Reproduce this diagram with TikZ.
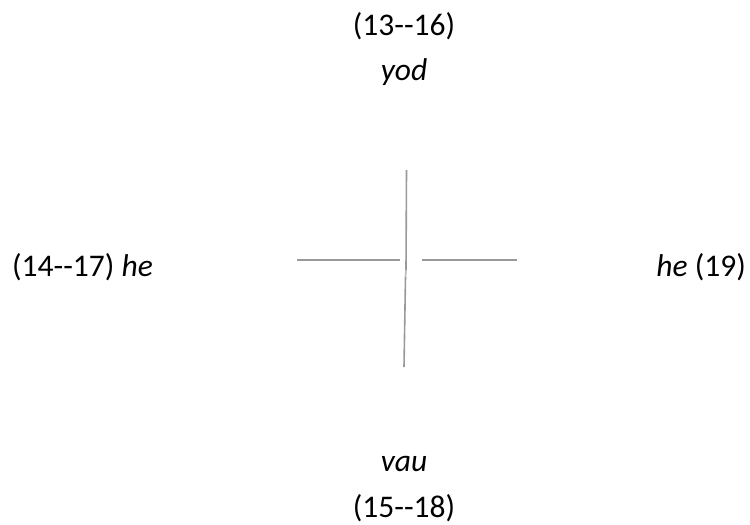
\documentclass[tikz,border=0pt]{standalone}
\usepackage{fontspec}
\setmainfont{Carlito}
\newcommand{\tirets}{{-}{-}}
\begin{document}
\begin{tikzpicture}[x=1pt,y=1pt,
    label/.style={inner sep=0pt, font=\fontsize{31.5}{38}\selectfont},
    trait/.style={draw=gray!80, line width=1.6pt}]
    \useasboundingbox (0,0) rectangle (750,525);

    % textes autour de la croix
    \node[label, anchor=base] (num13) at (404,489) {(13\tirets16)};
    \node[label, anchor=base] (yod) at (404,444) {\itshape yod};
    \node[label, anchor=base west] (heg) at (12,248) {(14\tirets17) \textit{he}};
    \node[label, anchor=base east] (hed) at (746,248) {\textit{he} (19)};
    \node[label, anchor=base] (vau) at (404,53) {\itshape vau};
    \node[label, anchor=base] (num15) at (404,8) {(15\tirets18)};

    % la croix (branches un peu décalées au centre)
    \coordinate (haut) at (406.5,355);
    \coordinate (centreh) at (406,255);
    \coordinate (centreb) at (405.5,248);
    \coordinate (bas) at (404,158);
    \coordinate (gauche) at (297,265);
    \coordinate (gauchec) at (400,265);
    \coordinate (droitec) at (422,265);
    \coordinate (droite) at (517,265);

    \draw[trait] (haut) -- (centreh);
    \draw[trait, draw=gray!55] (centreh) -- (centreb);
    \draw[trait] (centreb) -- (bas);
    \draw[trait] (gauche) -- (gauchec);
    \draw[trait] (droitec) -- (droite);
\end{tikzpicture}
\end{document}
